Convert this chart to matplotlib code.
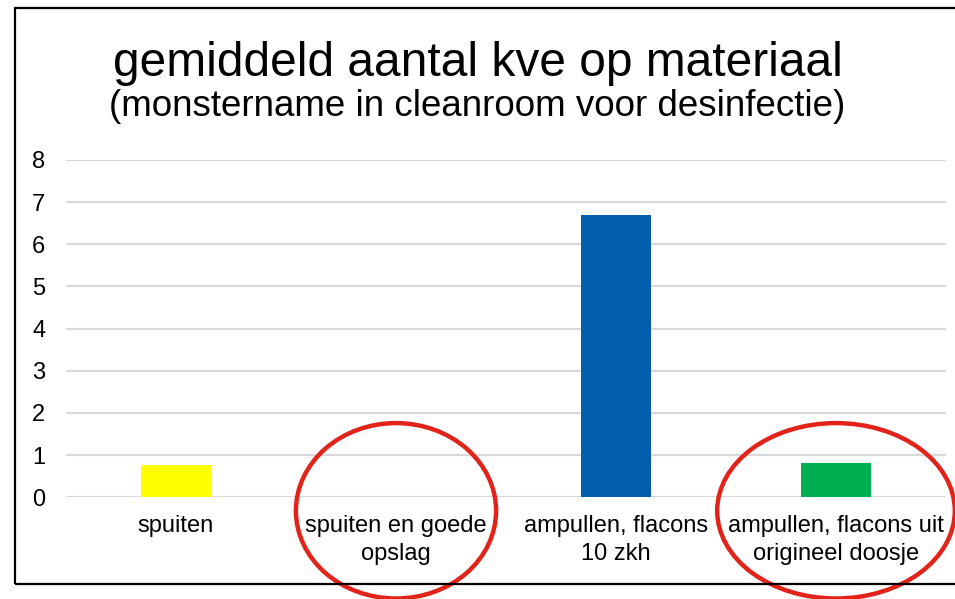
import matplotlib
matplotlib.use('Agg')
import matplotlib.pyplot as plt
from matplotlib.patches import Ellipse, Rectangle

categories = ['spuiten', 'spuiten en goede\nopslag', 'ampullen, flacons\n10 zkh',
              'ampullen, flacons uit\norigineel doosje']
values = [0.77, 0.0, 6.69, 0.81]
colors = ['#FFFF00', '#FFFF00', '#005EAC', '#00B050']
circled = [1, 3]
yticks = [0, 1, 2, 3, 4, 5, 6, 7, 8]

plt.rcParams['font.family'] = ['Liberation Sans', 'DejaVu Sans']

fig = plt.figure(figsize=(9.55, 5.99), dpi=100)
ax = fig.add_axes([66 / 955, (599 - 497.3) / 599, 880 / 955, 337.3 / 599])

x = list(range(len(categories)))
ax.bar(x, values, width=0.32, color=colors, zorder=3)

ax.set_xlim(-0.5, len(categories) - 0.5)
ax.set_ylim(0, 8)
ax.set_yticks(yticks)
ax.set_xticks(x)
ax.set_xticklabels(categories, fontsize=17, linespacing=1.35)
ax.tick_params(axis='y', length=0, pad=15, labelsize=17)
ax.tick_params(axis='x', length=0, pad=13)
ax.grid(axis='y', color='#D9D9D9', linewidth=1.5, zorder=0)
for s in ax.spines.values():
    s.set_visible(False)

fig.text(0.5, 1 - 63 / 599, 'gemiddeld aantal kve op materiaal', ha='center', va='center', fontsize=34.5)
fig.text(0.5, 1 - 106 / 599, '(monstername in cleanroom voor desinfectie)', ha='center', va='center',
         fontsize=26.5)

# kader rond grafiek
fig.patches.append(Rectangle((15 / 955, 1 - 584 / 599), 1.0, (584 - 8) / 599, transform=fig.transFigure,
                             fill=False, edgecolor='black', linewidth=1.6, clip_on=False))

# rode cirkels
widths = {1: 0.91, 3: 1.08}
for i in circled:
    e = Ellipse((i, -0.04), widths[i], 0.52, transform=ax.get_xaxis_transform(),
                fill=False, edgecolor='#E2231A', linewidth=3.2, clip_on=False, zorder=5)
    ax.add_patch(e)

fig.savefig('out.png', dpi=100)
